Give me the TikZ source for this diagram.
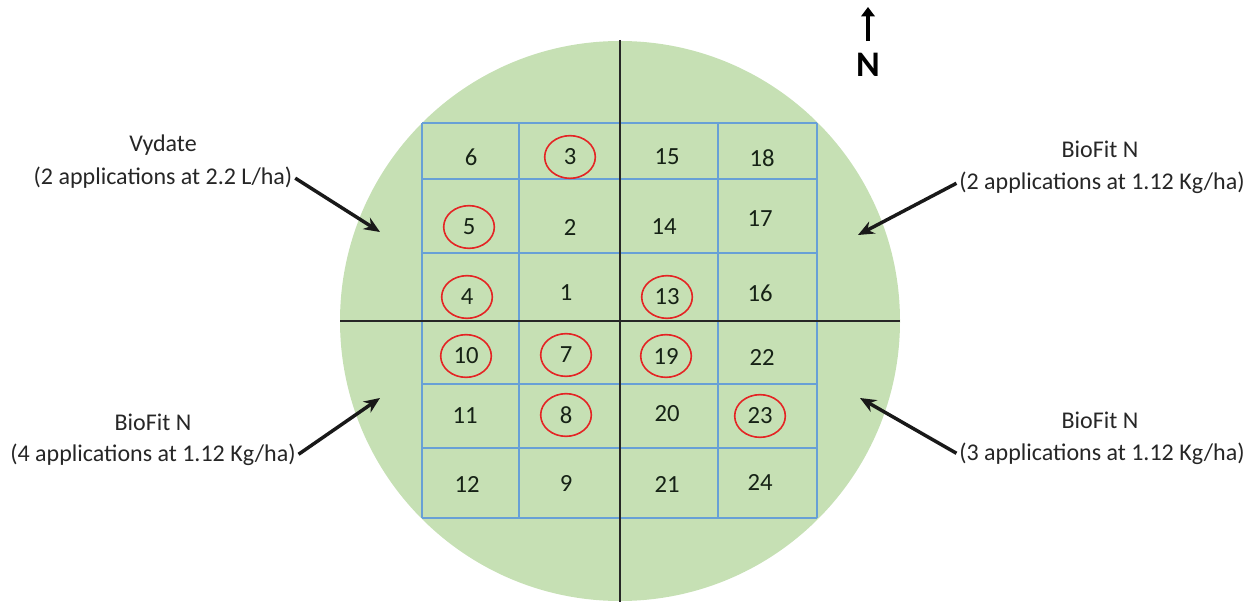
\documentclass[tikz,border=0pt]{standalone}
\usepackage{fontspec}
\setmainfont{Carlito}
\usetikzlibrary{shapes.geometric,arrows.meta,positioning}
\definecolor{fieldgreen}{RGB}{198,224,180}
\definecolor{plotblue}{RGB}{104,160,214}
\definecolor{ringred}{RGB}{228,36,36}
\definecolor{numgray}{RGB}{22,34,22}

\begin{document}
\begin{tikzpicture}[x=0.75pt,y=-0.75pt,
  plotline/.style={draw=plotblue,line width=1.3pt},
  axis/.style={draw=black!85,line width=1.5pt},
  plotno/.style={inner sep=1pt,font=\fontsize{18.5}{20}\selectfont,text=numgray},
  sampled/.style={plotno,ellipse,draw=ringred,line width=1.2pt,
                  minimum width=38pt,minimum height=32pt},
  lbl/.style={inner sep=2pt,anchor=base,font=\fontsize{18}{21}\selectfont,text=black!85},
  pointer/.style={-{Stealth[length=12pt,width=10pt]},line width=2.6pt,draw=black!90}
]
  \useasboundingbox (0,0) rectangle (1249,602);

  % Field
  \fill[fieldgreen] (620,321) circle[radius=210pt];

  % Plot grid
  \foreach \x in {422,519,620,718,817}
    \draw[plotline] (\x,123) -- (\x,518);
  \foreach \y in {123,179,253,321,384,448,518}
    \draw[plotline] (422,\y) -- (817,\y);

  % Quadrant lines
  \draw[axis] (620,40) -- (620,602);
  \draw[axis] (340,321) -- (900,321);

  % Plot numbers
  \foreach \lbl/\x/\y in {6/471/157, 15/667/157, 18/762/158,
                          2/570/227, 14/664/227, 17/760/219,
                          1/566/293, 16/760/293, 22/762/357,
                          11/465/416, 20/667/414,
                          12/467/484, 9/566/483, 21/667/484, 24/760/482} {
    \node[plotno] (p\lbl) at (\x,\y) {\lbl};
  }
  % Sampled plots
  \foreach \lbl/\x/\y in {3/570/157, 5/469/227, 4/467/297, 13/667/297,
                          10/466/356, 7/566/355, 19/666/356,
                          8/566/415, 23/760/416} {
    \node[sampled] (p\lbl) at (\x,\y) {\lbl};
  }

  % Treatments
  \node[lbl] (vydName) at (163,152) {Vydate};
  \node[lbl] (vydRate) at (163,185) {(2 applications at 2.2 L/ha)};
  \coordinate (vydTip) at (380,232);
  \draw[pointer] (vydRate.east) -- (vydTip);

  \node[lbl] (bfnwName) at (1100,158) {BioFit N};
  \node[lbl] (bfnwRate) at (1102,190) {(2 applications at 1.12 Kg/ha)};
  \coordinate (bfnwTip) at (858,235);
  \draw[pointer] (bfnwRate.west) -- (bfnwTip);

  \node[lbl] (bfswName) at (153,430) {BioFit N};
  \node[lbl] (bfswRate) at (153,461) {(4 applications at 1.12 Kg/ha)};
  \coordinate (bfswTip) at (380,398);
  \draw[pointer] (bfswRate.east) -- (bfswTip);

  \node[lbl] (bfseName) at (1100,428) {BioFit N};
  \node[lbl] (bfseRate) at (1102,460) {(3 applications at 1.12 Kg/ha)};
  \coordinate (bfseTip) at (860,398);
  \draw[pointer] (bfseRate.west) -- (bfseTip);

  % North arrow
  \node[inner sep=2pt,font=\fontsize{27}{30}\selectfont\bfseries] (north) at (868,65) {N};
  \coordinate (northTip) at (868,7);
  \draw[-{Triangle[length=7pt,width=10pt]},line width=3.2pt,shorten <=7pt] (north.north) -- (northTip);
\end{tikzpicture}
\end{document}
